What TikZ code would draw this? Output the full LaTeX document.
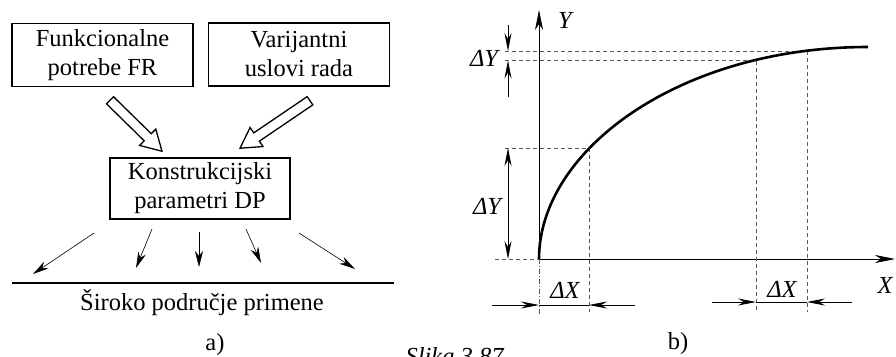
\documentclass[tikz,border=0pt]{standalone}
\usepackage{fontspec}
\setmainfont{Liberation Serif}
\usetikzlibrary{arrows.meta,calc}
\definecolor{dashgray}{RGB}{90,90,90}
\newcommand{\hollowarrow}[2]{%
  \path ($(#2)!20pt!(#1)$) coordinate (hb);
  \draw[hollow] ($(#1)!5pt!90:(#2)$) -- ($(hb)!5pt!90:(#2)$) -- ($(hb)!11.5pt!90:(#2)$)
    -- (#2) -- ($(hb)!11.5pt!-90:(#2)$) -- ($(hb)!5pt!-90:(#2)$) -- ($(#1)!5pt!-90:(#2)$) -- cycle;
}

\begin{document}
\begin{tikzpicture}[
    x=1pt,y=-1pt,
    font=\fontsize{24.5}{29}\selectfont,
    box/.style={draw,line width=1.5pt,align=center,inner sep=0pt,minimum width=181pt,minimum height=63pt},
    hollow/.style={draw,line width=1.3pt,line join=miter},
    spread/.style={-{Stealth[length=16pt,width=8pt,inset=5pt]},line width=0.6pt},
    axis/.style={-{Stealth[length=20pt,width=8pt,inset=6pt]},line width=0.7pt},
    dim/.style={-{Stealth[length=18pt,width=7pt,inset=6pt]},line width=0.7pt},
    guide/.style={dashed,dash pattern=on 4pt off 3pt,dashgray,line width=0.8pt},
    curve/.style={line width=2.6pt}
  ]
    \useasboundingbox (0,0) rectangle (896,356);

    % a)
    \node[box] (funk) at (102.5,55) {Funkcionalne\\potrebe FR};
    \node[box] (var) at (299,54.5) {Varijantni\\uslovi rada};
    \node[box,minimum width=180pt,minimum height=61pt] (konst) at (200,188.5) {Konstrukcijski\\parametri DP};

    \coordinate (t1) at ($(funk.south)+(7.5,13)$);
    \coordinate (h1) at ($(konst.north)+(-38,-6)$);
    \coordinate (t2) at ($(var.south)+(11,14)$);
    \coordinate (h2) at ($(konst.north)+(40,-9)$);
    \hollowarrow{t1}{h1}
    \hollowarrow{t2}{h2}

    \foreach \sx/\sy/\ex/\ey [count=\i] in {94/233/33/274,152/229/136/268,
        199/232/199/267,246/229/261/263,299/233/355/269}{
      \coordinate (s\i) at (\sx,\sy);
      \coordinate (e\i) at (\ex,\ey);
      \draw[spread] (s\i) -- (e\i);
    }

    \coordinate (l1) at (12,283);
    \coordinate (l2) at (394,283);
    \draw[line width=1.6pt] (l1) -- (l2);
    \node[anchor=base] (field) at (202,310) {Široko područje primene};
    \node[anchor=base] (lbla) at (215,350) {a)};
    \node[anchor=base west] (cap) at (402,364) {\itshape Slika 3.87};

    % b)
    \coordinate (o) at (539,259);
    \coordinate (ytop) at (539,10);
    \coordinate (xend) at (895,259);
    \coordinate (p1) at (589,148);
    \coordinate (p2) at (756,60.5);
    \coordinate (p3) at (807,51);
    \coordinate (p4) at (868,47);

    \draw[axis] (o) -- (ytop);
    \draw[axis] (o) -- (xend);
    \node (ylab) at (565,20) {\itshape Y};
    \node (xlab) at (885,285) {\itshape X};

    \draw[guide] (505,51) -- (p3);
    \draw[guide] (505,60.5) -- (p2);
    \draw[guide] (505,148) -- (p1);
    \draw[guide] (495,259) -- (o);
    \draw[guide] (p1) -- (589,312);
    \draw[guide] (p2) -- (756,312);
    \draw[guide] (p3) -- (807,312);
    \draw[guide,dash pattern=on 5pt off 2pt on 1pt off 2pt] (o) -- (539,315);

    \draw[curve] (o) .. controls (539,150) and (680,47) .. (p4);

    % dimensions
    \draw[dim] (508,25) -- (508,51);
    \draw[dim] (508,97) -- (508,60.5);
    \node (dy1) at (484,58) {\itshape ΔY};
    \draw[dim] (508,200) -- (508,148);
    \draw[dim] (508,200) -- (508,259);
    \node (dy2) at (487,206) {\itshape ΔY};

    \draw[dim] (492,305) -- (539,305);
    \draw[dim] (635,305) -- (589,305);
    \draw[line width=0.7pt] (539,305) -- (589,305);
    \node (dx1) at (565,290) {\itshape ΔX};

    \draw[dim] (712,302) -- (756,302);
    \draw[dim] (852,302) -- (807,302);
    \draw[line width=0.7pt] (756,302) -- (807,302);
    \node (dx2) at (782,289) {\itshape ΔX};

    \node[anchor=base] (lblb) at (678,349) {b)};
  \end{tikzpicture}
\end{document}
